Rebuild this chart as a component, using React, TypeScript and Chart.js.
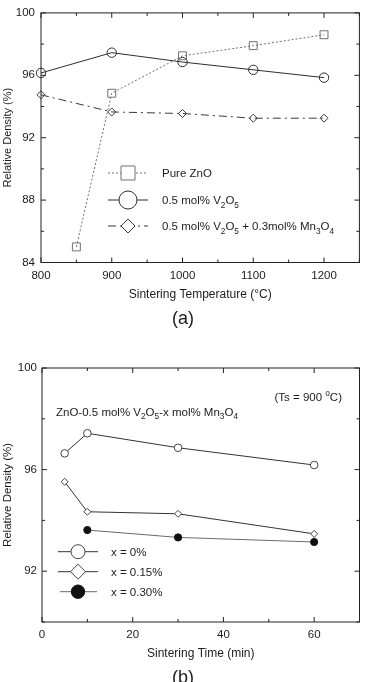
import React, { useEffect, useRef } from "react";
import { Chart, registerables } from "chart.js";
Chart.register(...registerables);

// ---------- Panel (a): density vs sintering temperature ----------
const tempZnO = [850, 900, 1000, 1100, 1200];
const densZnO = [85.0, 94.85, 97.25, 97.9, 98.6];
const tempDoped = [800, 900, 1000, 1100, 1200];
const densV2O5 = [96.15, 97.45, 96.85, 96.35, 95.85];
const densV2O5Mn = [94.75, 93.65, 93.55, 93.25, 93.25];
const labelsA = ["Pure ZnO", "0.5 mol% V_2O_5", "0.5 mol% V_2O_5 + 0.3mol% Mn_3O_4"];
const xLabeledA = [800, 900, 1000, 1100, 1200];
const yLabeledA = [84, 88, 92, 96, 100];
const xTitleA = "Sintering Temperature (°C)";
const captionA = "(a)";

// ---------- Panel (b): density vs sintering time ----------
const timeX0 = [5, 10, 30, 60];
const dens0 = [96.64, 97.43, 96.86, 96.18];
const timeX15 = [5, 10, 30, 60];
const dens15 = [95.52, 94.34, 94.26, 93.47];
const timeX30 = [10, 30, 60];
const dens30 = [93.62, 93.33, 93.15];
const labelsB = ["x = 0%", "x = 0.15%", "x = 0.30%"];
const xLabeledB = [0, 20, 40, 60];
const yLabeledB = [92, 96, 100];
const xTitleB = "Sintering Time (min)";
const noteB1 = "ZnO-0.5 mol% V_2O_5-x mol% Mn_3O_4";
const noteB2 = "(Ts = 900 ^oC)";
const captionB = "(b)";
const yTitle = "Relative Density (%)";

const FAMILY = '"Liberation Sans", Arial, Helvetica, sans-serif';
const INK = "#1c1c1c";

const zip = (xs: number[], ys: number[]) => xs.map((x, i) => ({ x, y: ys[i] }));

function drawRich(ctx: CanvasRenderingContext2D, text: string, x: number, y: number, size: number, align = "left") {
  const segs: { t: string; m: number; w?: number }[] = [];
  let buf = "";
  for (let i = 0; i < text.length; i++) {
    const c = text[i];
    if ((c === "_" || c === "^") && i + 1 < text.length) {
      if (buf) segs.push({ t: buf, m: 0 });
      buf = "";
      segs.push({ t: text[i + 1], m: c === "_" ? 1 : -1 });
      i++;
      continue;
    }
    buf += c;
  }
  if (buf) segs.push({ t: buf, m: 0 });
  const main = `${size}px ${FAMILY}`;
  const small = `${size * 0.72}px ${FAMILY}`;
  let total = 0;
  for (const s of segs) {
    ctx.font = s.m ? small : main;
    s.w = ctx.measureText(s.t).width;
    total += s.w;
  }
  let cx = align === "left" ? x : align === "right" ? x - total : x - total / 2;
  ctx.textBaseline = "alphabetic";
  ctx.textAlign = "left";
  for (const s of segs) {
    ctx.font = s.m ? small : main;
    const dy = s.m === 1 ? size * 0.3 : s.m === -1 ? -size * 0.42 : 0;
    ctx.fillText(s.t, cx, y + dy);
    cx += s.w || 0;
  }
}

function drawMarker(ctx: CanvasRenderingContext2D, style: string, x: number, y: number, r: number, filled: boolean) {
  ctx.beginPath();
  if (style === "rect") ctx.rect(x - r, y - r, 2 * r, 2 * r);
  else if (style === "rectRot") {
    ctx.moveTo(x - r, y);
    ctx.lineTo(x, y - r);
    ctx.lineTo(x + r, y);
    ctx.lineTo(x, y + r);
    ctx.closePath();
  } else ctx.arc(x, y, r, 0, Math.PI * 2);
  if (filled) ctx.fill();
  ctx.stroke();
}

const framePlugin = {
  id: "frameTicks",
  afterDraw(chart: any, _args: any, opts: any) {
    const { ctx, chartArea: a, scales } = chart;
    const xs = scales.x;
    const ys = scales.y;
    ctx.save();
    ctx.strokeStyle = "#222";
    ctx.lineWidth = 1;
    ctx.setLineDash([]);
    ctx.strokeRect(a.left, a.top, a.right - a.left, a.bottom - a.top);
    ctx.beginPath();
    xs.ticks.forEach((t: any) => {
      const px = xs.getPixelForValue(t.value);
      const len = t.label ? 5 : 3;
      ctx.moveTo(px, a.bottom);
      ctx.lineTo(px, a.bottom - len);
      ctx.moveTo(px, a.top);
      ctx.lineTo(px, a.top + len);
    });
    ys.ticks.forEach((t: any) => {
      const py = ys.getPixelForValue(t.value);
      const len = t.label ? 5 : 3;
      ctx.moveTo(a.left, py);
      ctx.lineTo(a.left + len, py);
      ctx.moveTo(a.right, py);
      ctx.lineTo(a.right - len, py);
    });
    ctx.stroke();

    // legend
    (opts.legend || []).forEach((it: any, i: number) => {
      const ds = chart.data.datasets[i];
      const y = it.y;
      ctx.strokeStyle = ds.borderColor;
      ctx.lineWidth = 1;
      ctx.setLineDash(ds.borderDash || []);
      ctx.beginPath();
      ctx.moveTo(it.x0, y);
      ctx.lineTo(it.x1, y);
      ctx.stroke();
      ctx.setLineDash([]);
      ctx.strokeStyle = ds.pointBorderColor;
      ctx.fillStyle = "#ffffff";
      if (it.filled) ctx.fillStyle = ds.pointBackgroundColor;
      drawMarker(ctx, ds.pointStyle, it.mx, y, it.r, true);
      ctx.fillStyle = INK;
      drawRich(ctx, it.text, it.tx, y + it.size * 0.36, it.size, "left");
    });

    // free texts
    ctx.fillStyle = INK;
    (opts.texts || []).forEach((t: any) => {
      drawRich(ctx, t.text, t.x, t.y, t.size, t.align || "left");
    });
    ctx.restore();
  },
};

function makeScales(p: any) {
  return {
    x: {
      type: "linear",
      min: p.xMin,
      max: p.xMax,
      afterFit: (s: any) => {
        s.height = 40;
      },
      grid: { display: false, drawTicks: false },
      border: { display: false },
      ticks: {
        stepSize: p.xStep,
        padding: 6,
        color: INK,
        font: { family: FAMILY, size: 11.5 },
        maxRotation: 0,
        autoSkip: false,
        callback: (v: number) => (p.xLabeled.includes(v) ? String(v) : ""),
      },
      title: {
        display: true,
        text: p.xTitle,
        color: INK,
        font: { family: FAMILY, size: 12 },
        padding: { top: 0, bottom: p.xTitlePad },
      },
    },
    y: {
      type: "linear",
      min: p.yMin,
      max: p.yMax,
      afterFit: (s: any) => {
        s.width = p.yWidth;
      },
      grid: { display: false, drawTicks: false },
      border: { display: false },
      ticks: {
        stepSize: 2,
        padding: p.yTickPad,
        color: INK,
        font: { family: FAMILY, size: 11.5 },
        autoSkip: false,
        callback: (v: number) => (p.yLabeled.includes(v) ? String(v) : ""),
      },
      title: {
        display: true,
        text: yTitle,
        color: INK,
        font: { family: FAMILY, size: p.yTitleSize },
        padding: { top: 1.2, bottom: 0 },
      },
    },
  };
}

export default function App() {
  const refA = useRef<HTMLCanvasElement>(null);
  const refB = useRef<HTMLCanvasElement>(null);

  useEffect(() => {
    const common = (ds: any) => ({
      borderWidth: 1,
      pointBorderWidth: 1,
      pointHoverRadius: 0,
      tension: 0,
      fill: false,
      clip: false,
      ...ds,
    });

    const chartA = new Chart(refA.current as HTMLCanvasElement, {
      type: "line",
      data: {
        datasets: [
          common({
            label: labelsA[0],
            data: zip(tempZnO, densZnO),
            borderColor: "#707070",
            borderDash: [2, 2],
            pointStyle: "rect",
            pointRadius: 5.6,
            pointBorderColor: "#707070",
            pointBackgroundColor: "rgba(255,255,255,0)",
          }),
          common({
            label: labelsA[1],
            data: zip(tempDoped, densV2O5),
            borderColor: "#2e2e2e",
            pointStyle: "circle",
            pointRadius: 4.7,
            pointBorderColor: "#2e2e2e",
            pointBackgroundColor: "rgba(255,255,255,0)",
          }),
          common({
            label: labelsA[2],
            data: zip(tempDoped, densV2O5Mn),
            borderColor: "#3a3a3a",
            borderDash: [8, 4, 2, 4],
            pointStyle: "rectRot",
            pointRadius: 4,
            pointBorderColor: "#3a3a3a",
            pointBackgroundColor: "rgba(255,255,255,0)",
          }),
        ],
      },
      options: {
        responsive: false,
        animation: false,
        events: [],
        layout: { padding: { top: 8, right: 6, bottom: 37.5, left: 0 } },
        scales: makeScales({
          xMin: 800, xMax: 1250, xStep: 50, xLabeled: xLabeledA, xTitle: xTitleA, xTitlePad: 0.4,
          yMin: 84, yMax: 100, yLabeled: yLabeledA, yWidth: 41, yTickPad: 6, yTitleSize: 11,
        }),
        plugins: {
          legend: { display: false },
          tooltip: { enabled: false },
          frameTicks: {
            legend: [
              { text: labelsA[0], y: 173, x0: 108, x1: 148, mx: 128, r: 7, tx: 162, size: 11.5 },
              { text: labelsA[1], y: 200, x0: 108, x1: 148, mx: 128, r: 9, tx: 162, size: 11.5 },
              { text: labelsA[2], y: 226, x0: 108, x1: 148, mx: 128, r: 7, tx: 162, size: 11.5 },
            ],
            texts: [{ text: captionA, x: 183, y: 324, size: 18, align: "center" }],
          },
        },
      } as any,
      plugins: [framePlugin as any],
    });

    const chartB = new Chart(refB.current as HTMLCanvasElement, {
      type: "line",
      data: {
        datasets: [
          common({
            label: labelsB[0],
            data: zip(timeX0, dens0),
            borderColor: "#333333",
            pointStyle: "circle",
            pointRadius: 3.8,
            pointBorderColor: "#444444",
            pointBackgroundColor: "#ffffff",
          }),
          common({
            label: labelsB[1],
            data: zip(timeX15, dens15),
            borderColor: "#333333",
            pointStyle: "rectRot",
            pointRadius: 3.5,
            pointBorderColor: "#444444",
            pointBackgroundColor: "#ffffff",
          }),
          common({
            label: labelsB[2],
            data: zip(timeX30, dens30),
            borderColor: "#6a6a6a",
            pointStyle: "circle",
            pointRadius: 3.6,
            pointBorderColor: "#111111",
            pointBackgroundColor: "#111111",
          }),
        ],
      },
      options: {
        responsive: false,
        animation: false,
        events: [],
        layout: { padding: { top: 28, right: 6.5, bottom: 20, left: 0 } },
        scales: makeScales({
          xMin: 0, xMax: 70, xStep: 10, xLabeled: xLabeledB, xTitle: xTitleB, xTitlePad: 1.5,
          yMin: 90, yMax: 100, yLabeled: yLabeledB, yWidth: 42, yTickPad: 5, yTitleSize: 11.5,
        }),
        plugins: {
          legend: { display: false },
          tooltip: { enabled: false },
          frameTicks: {
            legend: [
              { text: labelsB[0], y: 211.7, x0: 58, x1: 98, mx: 78, r: 7, tx: 111, size: 11.5 },
              { text: labelsB[1], y: 231.7, x0: 58, x1: 98, mx: 78, r: 7.5, tx: 111, size: 11.5 },
              { text: labelsB[2], y: 251.7, x0: 60, x1: 97, mx: 78, r: 6.7, tx: 111, size: 11.5, filled: true },
            ],
            texts: [
              { text: noteB1, x: 56, y: 75.8, size: 11.5, align: "left" },
              { text: noteB2, x: 342, y: 60.8, size: 11.5, align: "right" },
              { text: captionB, x: 183, y: 343, size: 18, align: "center" },
            ],
          },
        },
      } as any,
      plugins: [framePlugin as any],
    });

    return () => {
      chartA.destroy();
      chartB.destroy();
    };
  }, []);

  return (
    <div style={{ position: "absolute", left: 0, top: 0, width: 366, height: 682, background: "#fff", overflow: "hidden" }}>
      <canvas ref={refA} width={366} height={340} style={{ position: "absolute", left: 0, top: 0, display: "block" }} />
      <canvas ref={refB} width={366} height={342} style={{ position: "absolute", left: 0, top: 340, display: "block" }} />
    </div>
  );
}
